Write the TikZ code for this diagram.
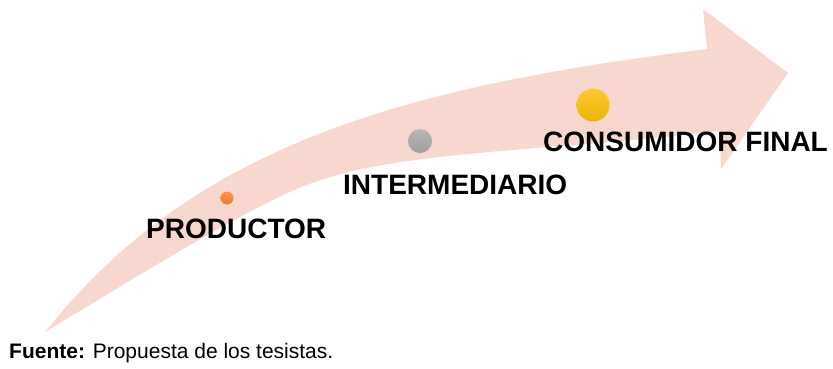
\documentclass[tikz,border=0pt]{standalone}
\usepackage{fontspec}
\setmainfont{Liberation Sans}
\definecolor{arrowpink}{RGB}{248,216,206}
\definecolor{dotorange}{RGB}{237,125,49}
\definecolor{dotorangelt}{RGB}{247,150,80}
\definecolor{dotgray}{RGB}{160,160,160}
\definecolor{dotgraylt}{RGB}{182,182,182}
\definecolor{dotyellow}{RGB}{236,180,0}
\definecolor{dotyellowlt}{RGB}{255,200,50}
\begin{document}
\begin{tikzpicture}[x=1pt,y=-1pt,
  stagelabel/.style={font=\fontsize{28}{30}\selectfont\bfseries, inner sep=0pt, anchor=base west, text=black},
  stagedot/.style={circle, inner sep=0pt, draw=none}]
\useasboundingbox (0,0) rectangle (833,368);
% curved arrow
\fill[arrowpink] (45,332) .. controls (190,150) and (390,88) .. (707,49)
  -- (703,9) -- (788,73) -- (721,169) -- (720,131)
  .. controls (521,154) and (380,150) .. (290,192)
  .. controls (220,224) and (120,287) .. (45,332) -- cycle;
% dots
\node[stagedot, minimum size=13pt, top color=dotorangelt, bottom color=dotorange] (d1) at (227,198) {};
\node[stagedot, minimum size=24pt, top color=dotgraylt, bottom color=dotgray] (d2) at (420,141) {};
\node[stagedot, minimum size=33pt, top color=dotyellowlt, bottom color=dotyellow] (d3) at (593,105) {};
% labels
\node[stagelabel] (l1) at (146,238) {PRODUCTOR};
\node[stagelabel] (l2) at (343,194) {INTERMEDIARIO};
\node[stagelabel] (l3) at (543,151) {CONSUMIDOR FINAL};
\node[inner sep=0pt, anchor=base west, font=\fontsize{21}{23}\selectfont] (src) at (9,358) {\textbf{Fuente:} Propuesta de los tesistas.};
\end{tikzpicture}
\end{document}
